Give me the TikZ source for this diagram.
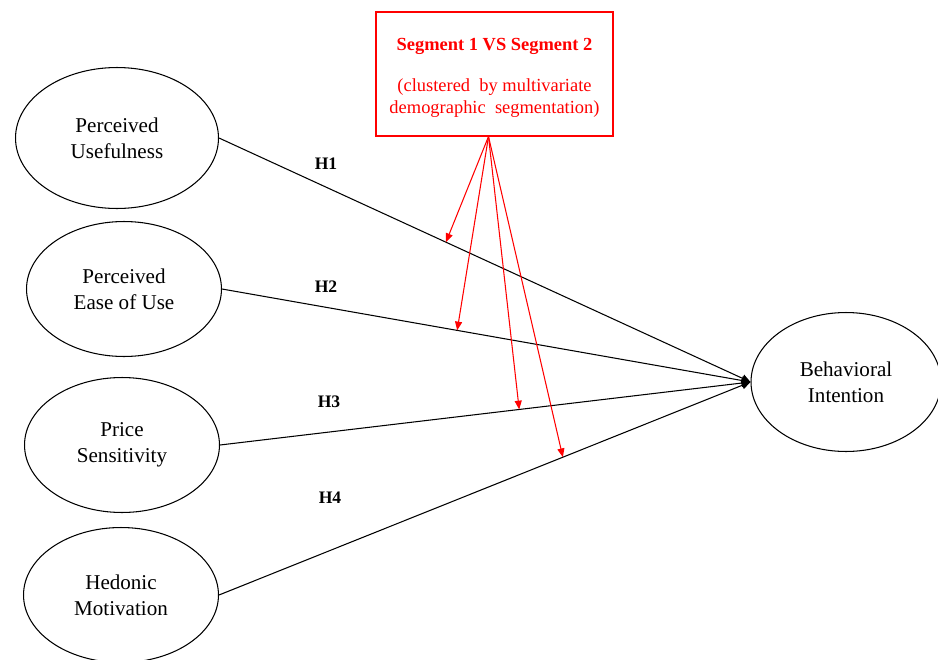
\documentclass[tikz,border=0pt]{standalone}
\usepackage{fontspec}
\setmainfont{Liberation Serif}
\usetikzlibrary{calc,shapes.geometric,arrows.meta}
\definecolor{SegRed}{RGB}{255,0,0}
\definecolor{PathBlack}{RGB}{0,0,0}

\begin{document}
\begin{tikzpicture}[x=0.02cm,y=-0.02cm,
    construct/.style={draw,ellipse,line width=0.6pt,inner sep=0pt,align=center,
      minimum width=3.9cm,minimum height=2.7cm,font=\fontsize{12}{15}\selectfont},
    hyp/.style={PathBlack,line width=0.6pt,-{Triangle[length=5pt,width=4.5pt]}},
    moderate/.style={SegRed,line width=0.6pt,-{Triangle[length=5pt,width=4pt]}}]
        \clip (0,0) rectangle (938,660);

        \node[construct,minimum width=4.06cm,minimum height=2.82cm] (pu) at (117,138) {Perceived\\Usefulness};
        \node[construct] (peu) at (124,289) {Perceived\\Ease of Use};
        \node[construct] (ps) at (122,445) {Price\\Sensitivity};
        \node[construct] (hm) at (121,595) {Hedonic\\Motivation};
        \node[construct,minimum width=3.8cm,minimum height=2.78cm] (bi) at (846,382) {Behavioral\\Intention};

        \node[draw=SegRed,line width=0.6pt,minimum width=4.74cm,minimum height=2.48cm] (seg) at (494.5,74) {};
        \node[text=SegRed,align=center,font=\fontsize{10.5}{12.5}\selectfont] (segtext) at ($(seg.center)+(0,4)$)
          {\textbf{Segment 1 VS Segment 2}\\[10.5pt](clustered\ \ by multivariate\\demographic\ \ segmentation)};

        \foreach \src in {pu,peu,ps,hm} {
          \draw[hyp] (\src.east) -- (bi.west);
        }

        \foreach \h/\x/\y in {1/326/164,2/326/287,3/329/402,4/330/498} {
          \node[font=\fontsize{10}{12}\selectfont\bfseries] (h\h) at (\x,\y) {H\h};
        }

        \coordinate (segfoot) at ($(seg.south)+(-6,0)$);
        \foreach \src/\t/\n in {pu/0.427/1,peu/0.445/2,ps/0.564/3,hm/0.647/4} {
          \coordinate (m\n) at ($(\src.east)!\t!(bi.west)$);
          \draw[moderate] (segfoot) -- (m\n);
        }
      \end{tikzpicture}
\end{document}
